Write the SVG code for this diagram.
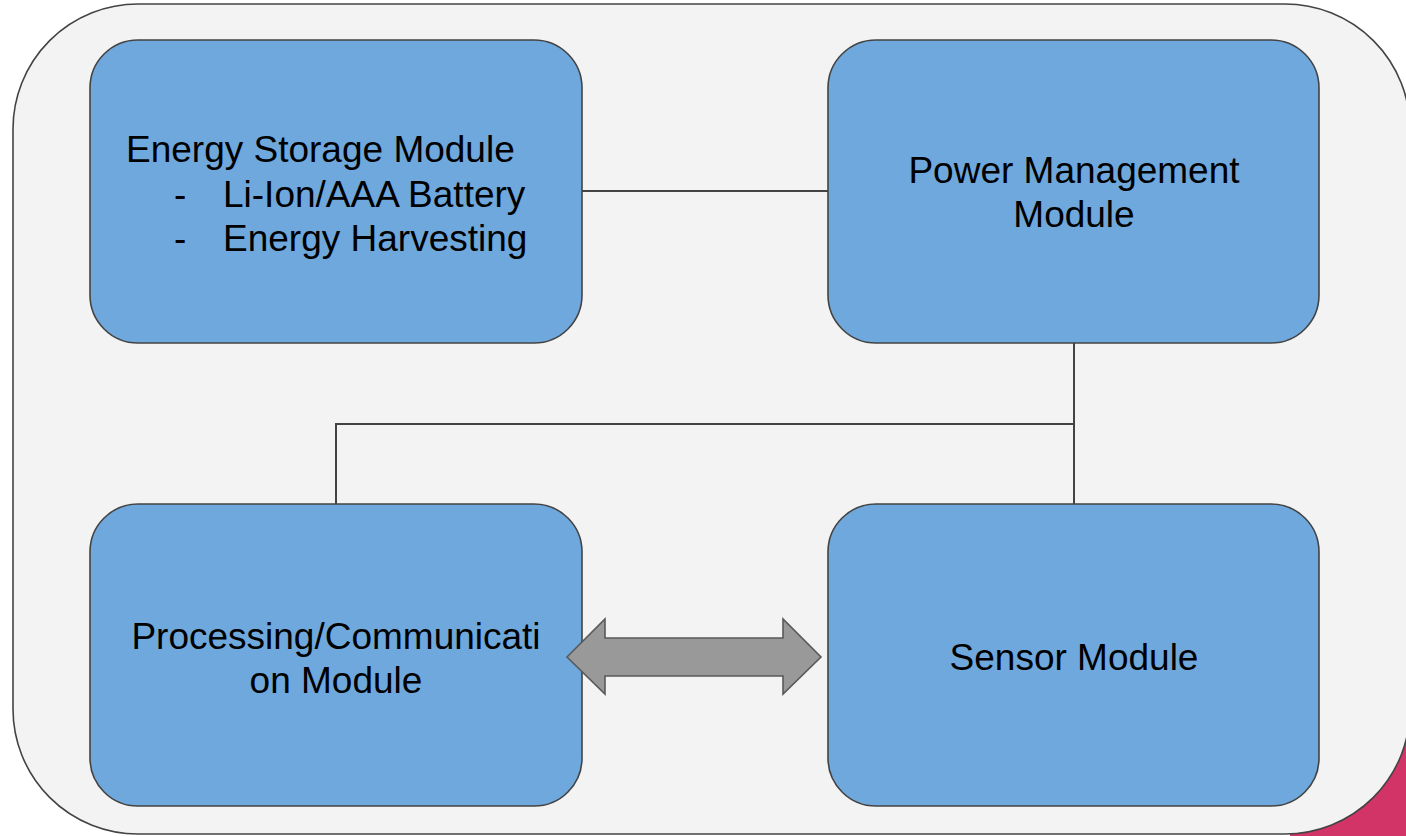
<svg xmlns="http://www.w3.org/2000/svg" width="1406" height="836" viewBox="0 0 1406 836">
<style>
.box{fill:#6fa8dc;stroke:#434343;stroke-width:1.6}
.lbl{font-family:"Liberation Sans",Arial,sans-serif;font-size:37px;fill:#000}
.c{text-anchor:middle}
.conn{fill:none;stroke:#434343;stroke-width:2}
</style>
<rect x="0" y="0" width="1406" height="836" fill="#ffffff"/>
<rect x="1290" y="690" width="116" height="146" fill="#d33468"/>
<g id="container">
<rect x="13" y="4" width="1397" height="830" rx="125" ry="125" fill="#f3f3f3" stroke="#434343" stroke-width="1.6"/>
</g>
<g id="energy-storage">
<rect class="box" x="90" y="40" width="492" height="303" rx="48" ry="48"/>
<text class="lbl" x="126" y="162">Energy Storage Module</text>
<text class="lbl" x="174" y="207">-</text>
<text class="lbl" x="223" y="207">Li-Ion/AAA Battery</text>
<text class="lbl" x="174" y="251">-</text>
<text class="lbl" x="223" y="251">Energy Harvesting</text>
</g>
<g id="power-management">
<rect class="box" x="828" y="40" width="491" height="303" rx="48" ry="48"/>
<text class="lbl c" x="1074" y="183">Power Management</text>
<text class="lbl c" x="1074" y="227">Module</text>
</g>
<g id="processing">
<rect class="box" x="90" y="504" width="492" height="302" rx="48" ry="48"/>
<text class="lbl c" x="336" y="649">Processing/Communicati</text>
<text class="lbl c" x="336" y="693">on Module</text>
</g>
<g id="sensor">
<rect class="box" x="828" y="504" width="491" height="302" rx="48" ry="48"/>
<text class="lbl c" x="1074" y="670">Sensor Module</text>
</g>
<g id="connectors">
<path class="conn" d="M582 191 H828"/>
<path class="conn" d="M1074 343 V504"/>
<path class="conn" d="M1074 424 H336 V504"/>
<polygon points="567,657 605,619 605,638 783,638 783,619 821,657 783,694 783,676 605,676 605,694" fill="#999999" stroke="#595959" stroke-width="1.6" stroke-linejoin="miter"/>
</g>
</svg>
